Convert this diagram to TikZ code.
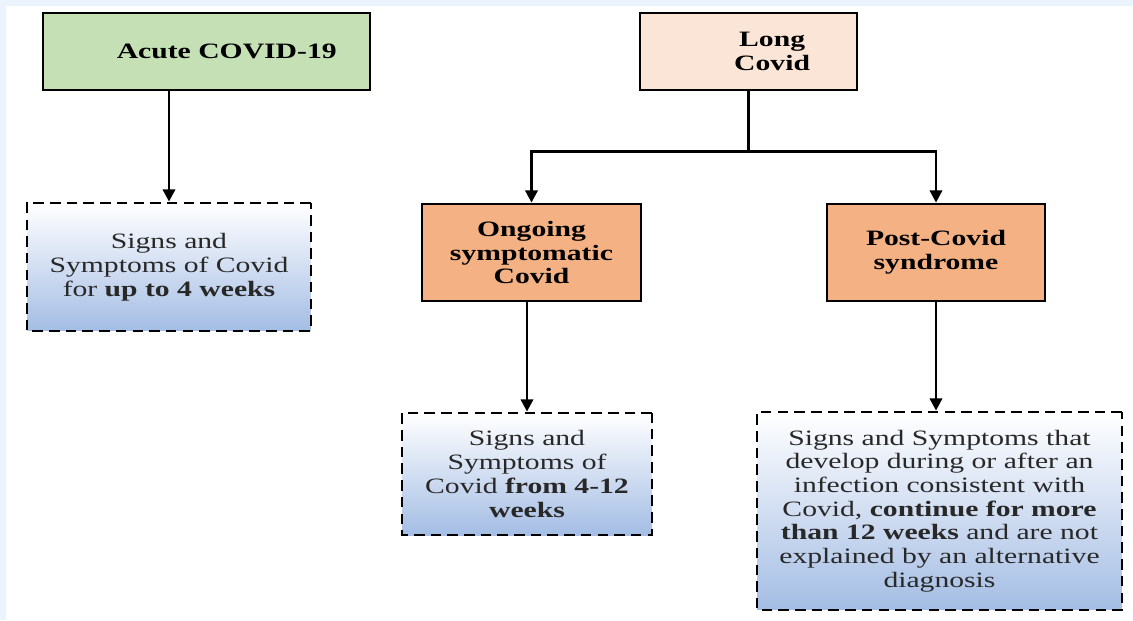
\documentclass[tikz,border=0pt]{standalone}
\usepackage{fontspec}
\setmainfont{Liberation Serif}
\usetikzlibrary{arrows.meta}
\usetikzlibrary{positioning}

\definecolor{acuteGreen}{RGB}{197,224,180}
\definecolor{longPeach}{RGB}{251,229,214}
\definecolor{phaseOrange}{RGB}{244,177,131}
\definecolor{infoBlue}{RGB}{164,189,228}
\definecolor{frameBlue}{RGB}{235,243,253}
\definecolor{infoText}{RGB}{40,40,40}

\begin{document}
\begin{tikzpicture}[
    x=0.02cm, y=-0.02cm,
    headBox/.style={
        rectangle, draw, line width=1.6pt,
        xscale=1.35,
        minimum height=1.54cm,
        font=\fontsize{12.5}{13.5}\selectfont\bfseries,
        align=center
    },
    infoBox/.style={
        rectangle, draw, line width=1.6pt,
        dash pattern=on 6pt off 3.5pt,
        top color=white, bottom color=infoBlue,
        xscale=1.35,
        font=\fontsize{12.5}{13.5}\selectfont,
        text=infoText,
        align=center
    },
    plainLine/.style={line width=1.6pt},
    arrowLine/.style={-{Triangle[length=7pt,width=7pt]}, line width=1.6pt}
]
% page and frame
\fill[white] (0,0) rectangle (1133,620);
\fill[frameBlue] (0,0) rectangle (1133,6);
\fill[frameBlue] (0,0) rectangle (6,620);
\useasboundingbox (0,0) rectangle (1133,620);

% main boxes
\node[headBox, fill=acuteGreen, minimum width=4.844cm] (acute) at (206.5,51.5) {\hspace*{0.6cm}Acute COVID-19};
\node[headBox, fill=longPeach, minimum width=3.215cm] (long) at (748.5,51.5) {\hspace*{0.7cm}Long\\\hspace*{0.7cm}Covid};
\node[headBox, fill=phaseOrange, minimum width=3.244cm, minimum height=1.94cm] (ongoing) at (531.5,252.5) {Ongoing\\symptomatic\\Covid};
\node[headBox, fill=phaseOrange, minimum width=3.23cm, minimum height=1.94cm] (post) at (936,252.5) {Post-Covid\\syndrome};

% descriptions
\node[infoBox, minimum width=4.207cm, minimum height=2.56cm] (acuteInfo) at (169,267) {Signs and\\Symptoms of Covid\\for \textbf{up to 4 weeks}};
\node[infoBox, minimum width=3.704cm, minimum height=2.44cm] (ongoingInfo) at (527,474) {Signs and\\Symptoms of\\Covid \textbf{from 4-12}\\\textbf{weeks}};
\node[infoBox, minimum width=5.407cm, minimum height=3.96cm] (postInfo) at (939.5,511) {Signs and Symptoms that\\develop during or after an\\infection consistent with\\Covid, \textbf{continue for more}\\\textbf{than 12 weeks} and are not\\explained by an alternative\\diagnosis};

% connectors
\draw[arrowLine] (acuteInfo.north |- acute.south) -- (acuteInfo.north);
\coordinate[below=1.2cm of long.south] (fork);
\draw[plainLine] (long.south) -- (fork);
\draw[arrowLine] (fork) -| (ongoing.north);
\draw[arrowLine] (fork) -| (post.north);
\draw[arrowLine] (ongoingInfo.north |- ongoing.south) -- (ongoingInfo.north);
\draw[arrowLine] (post.south) -- (post.south |- postInfo.north);
\end{tikzpicture}
\end{document}
